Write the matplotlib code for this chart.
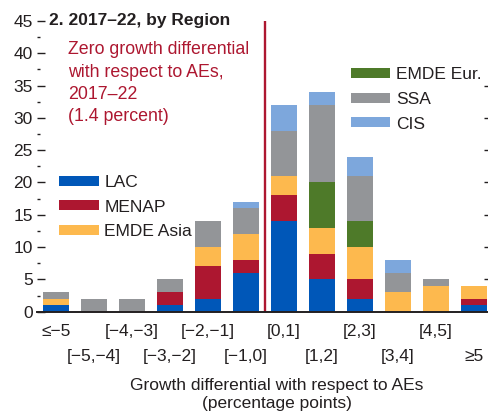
import numpy as np
import matplotlib.pyplot as plt

plt.rcParams['font.family'] = ['Liberation Sans Narrow', 'DejaVu Sans Condensed', 'Liberation Sans', 'DejaVu Sans']

# bins of growth differential with respect to AEs
categories = ['≤−5', '[−5,−4]', '[−4,−3]', '[−3,−2]', '[−2,−1]', '[−1,0]',
              '[0,1]', '[1,2]', '[2,3]', '[3,4]', '[4,5]', '≥5']
lac = [1, 0, 0, 1, 2, 6, 14, 5, 2, 0, 0, 1]
menap = [0, 0, 0, 2, 5, 2, 4, 4, 3, 0, 0, 1]
emde_asia = [1, 0, 0, 0, 3, 4, 3, 4, 5, 3, 4, 2]
emde_eur = [0, 0, 0, 0, 0, 0, 0, 7, 4, 0, 0, 0]
ssa = [1, 2, 2, 2, 4, 4, 7, 12, 7, 3, 1, 0]
cis = [0, 0, 0, 0, 0, 1, 4, 2, 3, 2, 0, 0]
zero_line = 5.5  # boundary between [-1,0] and [0,1]

series = [('LAC', lac, '#0057B8'), ('MENAP', menap, '#AD1730'),
          ('EMDE Asia', emde_asia, '#FDB94E'), ('EMDE Eur.', emde_eur, '#4E7A29'),
          ('SSA', ssa, '#939598'), ('CIS', cis, '#7DA7DC')]

dark = '#231F20'
red = '#AD1730'

fig = plt.figure(figsize=(4.88, 4.19), dpi=100)
ax = fig.add_axes([37 / 488, 107.3 / 419, 451 / 488, 290.7 / 419])

x = np.arange(len(categories))
bottom = np.zeros(len(categories))
bars = {}
for name, vals, col in series:
    bars[name] = ax.bar(x, vals, width=0.68, bottom=bottom, color=col, label=name, zorder=2)
    bottom += np.array(vals)

ax.axvline(zero_line, ymax=0.995, color=red, lw=1.7, zorder=3)

ax.set_xlim(-0.5, 11.37)
ax.set_ylim(0, 45)

for s in ['top', 'left', 'right']:
    ax.spines[s].set_visible(False)
ax.spines['bottom'].set_linewidth(1.4)
ax.spines['bottom'].set_color(dark)
ax.spines['bottom'].set_zorder(4)

# y ticks: inward on the left, short marks on the right
ax.set_yticks(np.arange(0, 46, 5))
ax.set_yticks(np.arange(2.5, 45, 5), minor=True)
ax.tick_params(axis='y', which='major', direction='in', length=5.5, width=1, color=dark,
               labelsize=12.5, labelcolor=dark, pad=3)
ax.tick_params(axis='y', which='minor', direction='in', length=2.5, width=1, color=dark)
axr = ax.secondary_yaxis('right')
axr.set_yticks(np.arange(5, 40, 5))
axr.tick_params(direction='in', length=3, width=1, color=dark, labelright=False)
axr.spines['right'].set_visible(False)

# staggered x labels
ax.set_xticks(x[::2], categories[::2])
ax.set_xticks(x[1::2], categories[1::2], minor=True)
ax.tick_params(axis='x', which='both', length=0, labelsize=12.5, labelcolor=dark)
ax.tick_params(axis='x', which='major', pad=9)
ax.tick_params(axis='x', which='minor', pad=27)

fig.text(277 / 488, 1 - 378 / 419, 'Growth differential with respect to AEs\n(percentage points)',
         ha='center', va='top', fontsize=12.5, color=dark, linespacing=1.25)

ax.text(0.027, 45, '2. 2017–22, by Region', transform=ax.get_yaxis_transform(),
        fontsize=12.5, fontweight='bold', color=dark, va='center', ha='left')
ax.text(0.069, 0.93, 'Zero growth differential\nwith respect to AEs,\n2017–22\n(1.4 percent)',
        transform=ax.transAxes, fontsize=12.8, color=red, va='top', ha='left', linespacing=1.4)

leg_kw = dict(loc='upper left', frameon=False, fontsize=12.5, handlelength=2.3,
              handleheight=0.5, handletextpad=0.3, labelspacing=0.55, borderpad=0,
              labelcolor=dark)
leg1 = ax.legend(handles=[bars['LAC'], bars['MENAP'], bars['EMDE Asia']],
                 bbox_to_anchor=(0.03, 0.50), **leg_kw)
ax.add_artist(leg1)
ax.legend(handles=[bars['EMDE Eur.'], bars['SSA'], bars['CIS']],
          bbox_to_anchor=(0.676, 0.87), **leg_kw)

fig.savefig('out.png', dpi=100)
